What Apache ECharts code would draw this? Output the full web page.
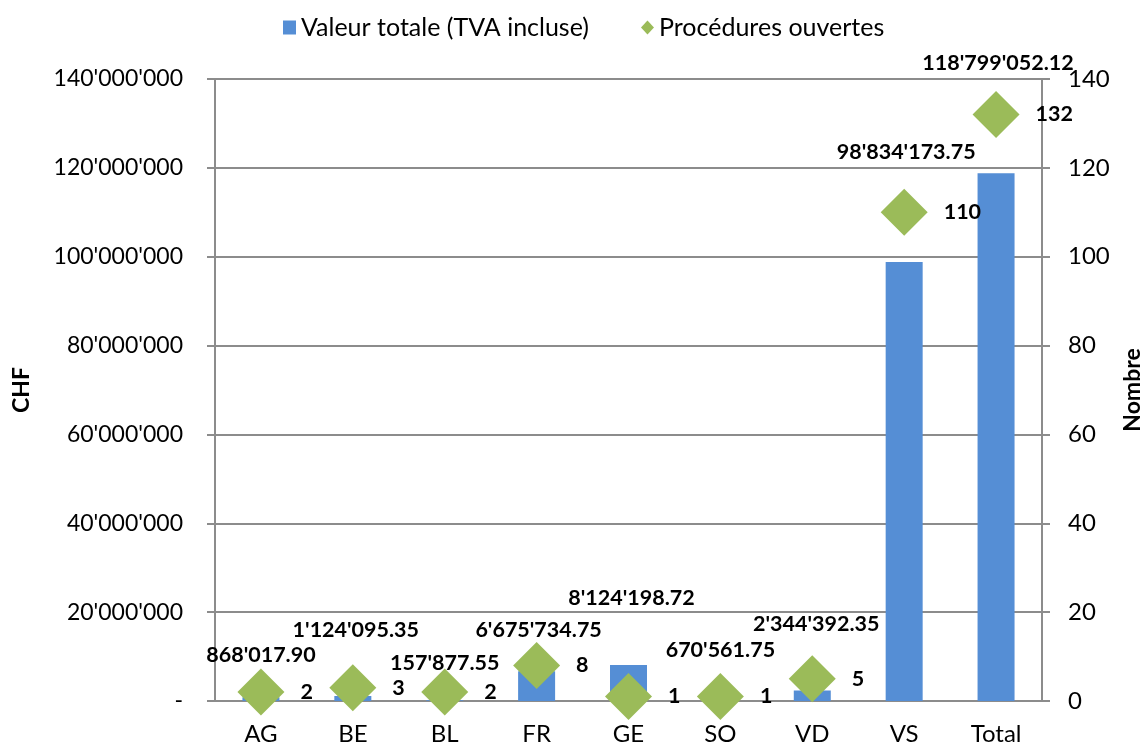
<!DOCTYPE html>
<html>
<head>
<meta charset="utf-8">
<script src="https://cdn.jsdelivr.net/npm/echarts@6/dist/echarts.min.js"></script>
<style>
    html, body { margin: 0; padding: 0; background: #fff; }
    #chart { width: 1142px; height: 747px; }
</style>
</head>
<body>
<div id="chart"></div>
<script>
var cantons = ['AG', 'BE', 'BL', 'FR', 'GE', 'SO', 'VD', 'VS', 'Total'];
var valeurTotale = [868017.90, 1124095.35, 157877.55, 6675734.75, 8124198.72, 670561.75, 2344392.35, 98834173.75, 118799052.12];
var proceduresOuvertes = [2, 3, 2, 8, 1, 1, 5, 110, 132];
// label shifts, tuned by eye to sit like the original
var valeurLabelOffset = [[0, -26], [3, -50], [0, -21], [2, -25], [3, -51], [0, -32], [4, -51], [2, -94], [2, -94]];

var fontName = 'Lato, "Open Sans", sans-serif';
var greyLine = '#8c8c8c';

function swissFormat(v, decimals) {
    var parts = v.toFixed(decimals).split('.');
    var intPart = parts[0].replace(/\B(?=(\d{3})+(?!\d))/g, "'");
    return parts.length > 1 ? intPart + '.' + parts[1] : intPart;
}

var barData = [];
for (var i = 0; i < valeurTotale.length; i++) {
    barData.push({
        value: valeurTotale[i],
        label: { offset: valeurLabelOffset[i] }
    });
}

var myChart = echarts.init(document.getElementById('chart'));
var option = {
    animation: false,
    textStyle: { fontFamily: fontName },
    legend: {
        top: 10,
        left: 278,
        itemGap: 52,
        itemWidth: 13,
        itemHeight: 14,
        textStyle: { fontSize: 25, color: '#000', fontFamily: fontName },
        data: [
            { name: 'Valeur totale (TVA incluse)', icon: 'rect' },
            { name: 'Procédures ouvertes', icon: 'diamond' }
        ]
    },
    grid: {
        left: 215,
        right: 100,
        top: 79,
        bottom: 46,
        outerBoundsMode: 'none'
    },
    xAxis: {
        type: 'category',
        data: cantons,
        axisLine: { lineStyle: { color: greyLine, width: 2 } },
        axisTick: { show: false },
        axisLabel: { fontSize: 24, color: '#000', margin: 21 }
    },
    yAxis: [
        {
            type: 'value',
            name: 'CHF',
            nameLocation: 'middle',
            nameGap: 182,
            nameTextStyle: { fontSize: 23, fontWeight: 'bold', color: '#000' },
            min: 0,
            max: 140000000,
            interval: 20000000,
            axisLine: { show: true, lineStyle: { color: greyLine, width: 2 } },
            axisTick: { show: true, length: 8, lineStyle: { color: greyLine, width: 2 } },
            splitLine: { lineStyle: { color: greyLine, width: 2 } },
            axisLabel: {
                fontSize: 23,
                color: '#000',
                margin: 32,
                formatter: function(v) { return v === 0 ? '-' : swissFormat(v, 0); }
            }
        },
        {
            type: 'value',
            name: 'Nombre',
            nameLocation: 'middle',
            nameGap: 76,
            nameTextStyle: { fontSize: 23, fontWeight: 'bold', color: '#000' },
            min: 0,
            max: 140,
            interval: 20,
            axisLine: { show: true, lineStyle: { color: greyLine, width: 2 } },
            axisTick: { show: true, length: 8, lineStyle: { color: greyLine, width: 2 } },
            splitLine: { show: false },
            axisLabel: { fontSize: 24, color: '#000', margin: 26 }
        }
    ],
    series: [
        {
            name: 'Valeur totale (TVA incluse)',
            type: 'bar',
            yAxisIndex: 0,
            barWidth: 37,
            itemStyle: { color: '#558ED5' },
            label: {
                show: true,
                position: 'top',
                fontSize: 21.5,
                fontWeight: 'bold',
                color: '#000',
                formatter: function(p) { return swissFormat(p.value, 2); }
            },
            data: barData
        },
        {
            name: 'Procédures ouvertes',
            type: 'scatter',
            yAxisIndex: 1,
            symbol: 'diamond',
            symbolSize: 47,
            itemStyle: { color: '#9BBB59', opacity: 1 },
            label: {
                show: true,
                position: 'right',
                distance: 16,
                fontSize: 21.5,
                fontWeight: 'bold',
                color: '#000'
            },
            data: proceduresOuvertes
        }
    ]
};
myChart.setOption(option);
</script>
</body>
</html>
